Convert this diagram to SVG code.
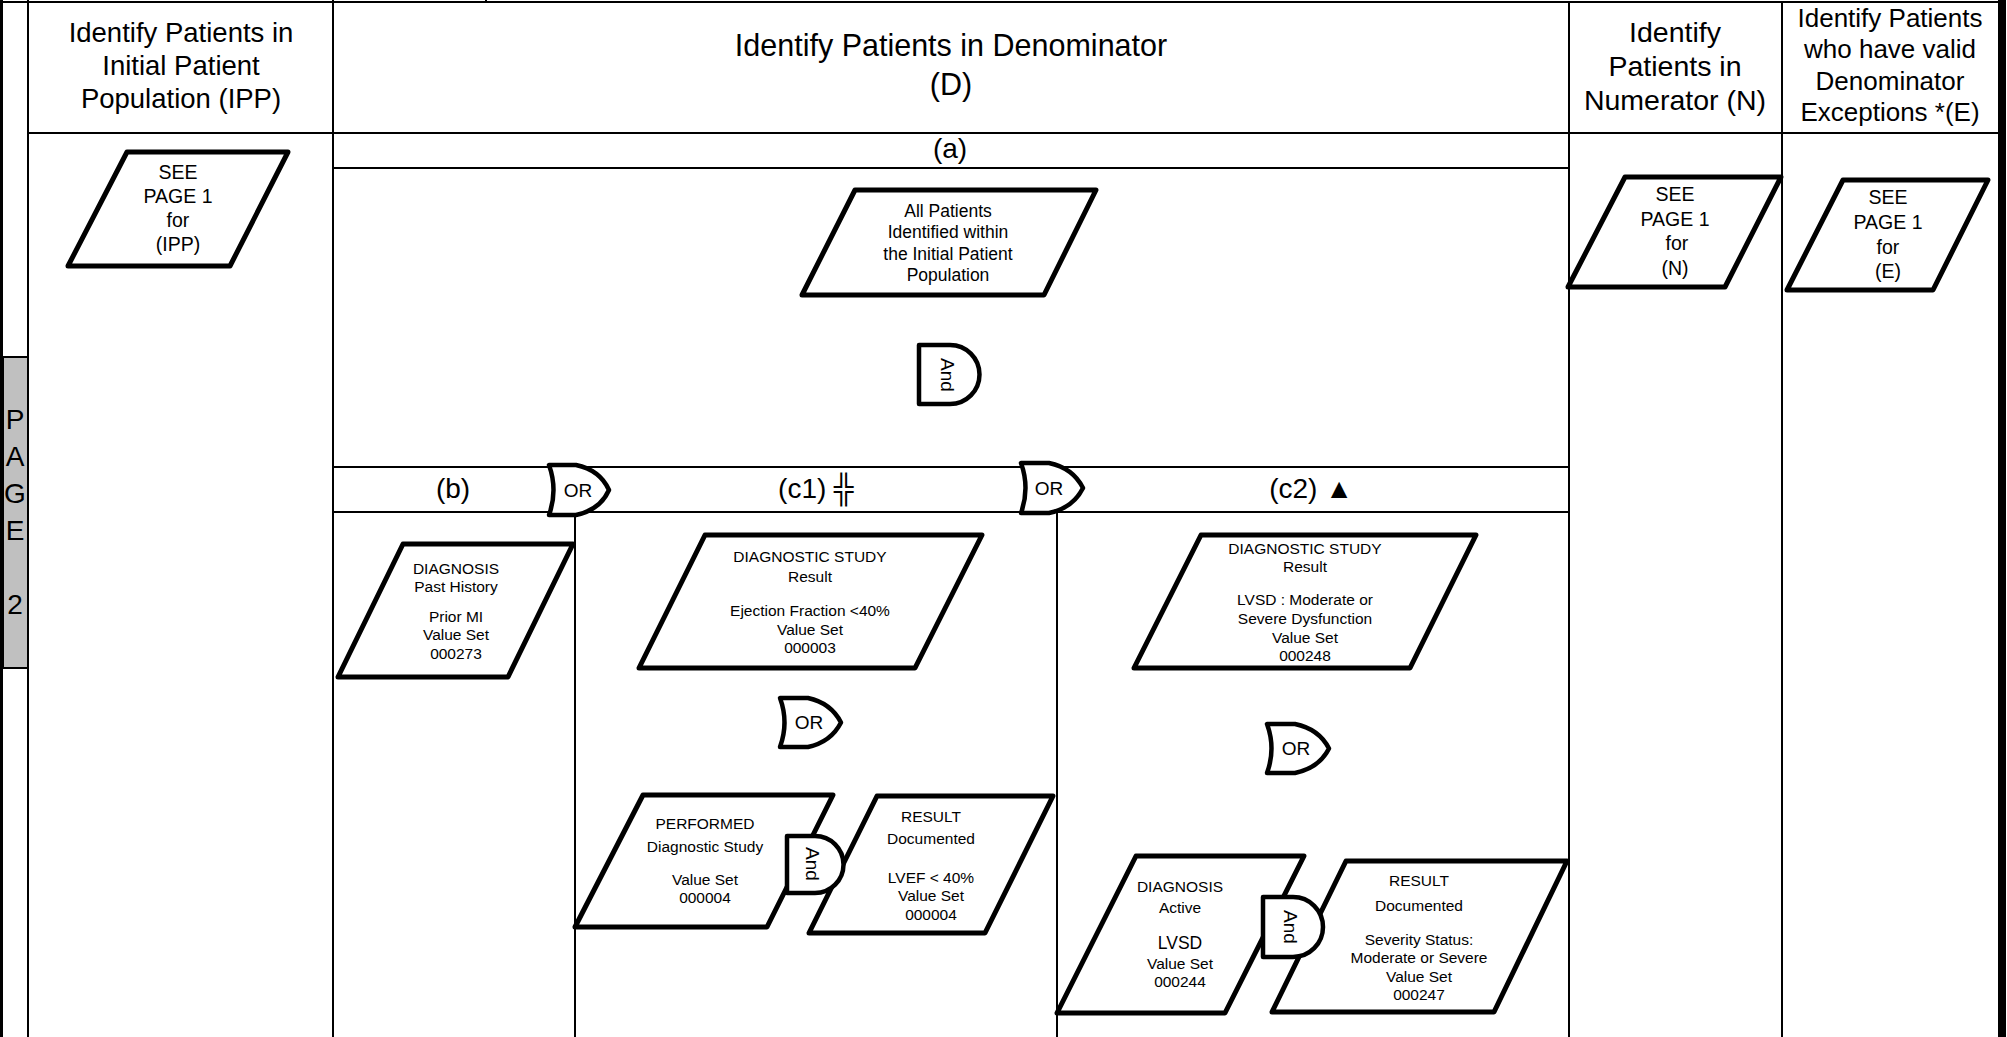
<svg xmlns="http://www.w3.org/2000/svg" width="2007" height="1037" viewBox="0 0 2007 1037">
  <style>
    .grid { stroke: #000; stroke-width: 2; fill: none; }
    .box { fill: #fff; stroke: #000; stroke-width: 5; stroke-linejoin: round; }
    .gate { fill: #fff; stroke: #000; stroke-width: 4.5; stroke-linejoin: round; }
    text { font-family: "Liberation Sans", Arial, sans-serif; fill: #000; text-anchor: middle; }
    .hd27 { font-size: 27.5px; }
    .hd30 { font-size: 30.5px; }
    .hd29 { font-size: 28.5px; }
    .hd26 { font-size: 26px; }
    .band { font-size: 28px; }
    .see { font-size: 19.5px; }
    .lg { font-size: 17.5px; }
    .sm { font-size: 15.5px; }
    .gt { font-size: 19px; }
    .pg { font-size: 28px; }
  </style>

  <rect x="0" y="0" width="2007" height="1037" fill="#fff"/>

  <!-- swimlane frame -->
  <g id="lanes">
    <rect x="0" y="0" width="3" height="1037" fill="#000"/>
    <rect x="1998" y="0" width="8" height="1037" fill="#000"/>
    <line class="grid" x1="0" y1="2" x2="2000" y2="2" stroke-width="2.5"/>
    <path class="grid" d="M333,0 V2 M486,0 V2" stroke-width="1.5"/>
    <line class="grid" x1="28" y1="0" x2="28" y2="1037"/>
    <line class="grid" x1="333" y1="2" x2="333" y2="1037"/>
    <line class="grid" x1="1569" y1="2" x2="1569" y2="1037"/>
    <line class="grid" x1="1782" y1="2" x2="1782" y2="1037"/>
    <line class="grid" x1="28" y1="133" x2="1998" y2="133"/>
    <line class="grid" x1="333" y1="168" x2="1569" y2="168"/>
    <line class="grid" x1="333" y1="467" x2="1569" y2="467"/>
    <line class="grid" x1="333" y1="512" x2="1569" y2="512"/>
    <line class="grid" x1="575" y1="512" x2="575" y2="1037"/>
    <line class="grid" x1="1057" y1="512" x2="1057" y2="1037"/>
  </g>

  <!-- page tab -->
  <g id="page-tab">
    <rect x="3" y="357" width="25" height="311" fill="#c0c0c0" stroke="#000" stroke-width="2"/>
    <text class="pg" x="15" y="429">P</text>
    <text class="pg" x="15" y="466">A</text>
    <text class="pg" x="15" y="503">G</text>
    <text class="pg" x="15" y="540">E</text>
    <text class="pg" x="15" y="614">2</text>
  </g>

  <!-- column headings -->
  <g id="header-ipp">
    <text class="hd27" x="181" y="42">Identify Patients in</text>
    <text class="hd27" x="181" y="75">Initial Patient</text>
    <text class="hd27" x="181" y="108">Population (IPP)</text>
  </g>
  <g id="header-d">
    <text class="hd30" x="951" y="56">Identify Patients in Denominator</text>
    <text class="hd30" x="951" y="95">(D)</text>
  </g>
  <g id="header-n">
    <text class="hd29" x="1675" y="42">Identify</text>
    <text class="hd29" x="1675" y="76">Patients in</text>
    <text class="hd29" x="1675" y="110">Numerator (N)</text>
  </g>
  <g id="header-e">
    <text class="hd26" x="1890" y="27">Identify Patients</text>
    <text class="hd26" x="1890" y="58">who have valid</text>
    <text class="hd26" x="1890" y="90">Denominator</text>
    <text class="hd26" x="1890" y="121">Exceptions *(E)</text>
  </g>

  <!-- sub-band labels -->
  <g id="band-a"><text class="band" x="950" y="158">(a)</text></g>
  <g id="band-b"><text class="band" x="453" y="498">(b)</text></g>
  <g id="band-c1"><text class="band" x="816" y="498">(c1) ╬</text></g>
  <g id="band-c2"><text class="band" x="1311" y="498">(c2) ▲</text></g>

  <!-- data nodes -->
  <g id="ipp-ref">
    <polygon class="box" points="127,152 288,152 230,266 68,266"/>
    <text class="see" x="178" y="179">SEE</text>
    <text class="see" x="178" y="203">PAGE 1</text>
    <text class="see" x="178" y="227">for</text>
    <text class="see" x="178" y="251">(IPP)</text>
  </g>
  <g id="n-ref">
    <polygon class="box" points="1625,177 1781,177 1725,287 1568,287"/>
    <text class="see" x="1675" y="201">SEE</text>
    <text class="see" x="1675" y="226">PAGE 1</text>
    <text class="see" x="1677" y="250">for</text>
    <text class="see" x="1675" y="275">(N)</text>
  </g>
  <g id="e-ref">
    <polygon class="box" points="1843,180 1988,180 1933,290 1787,290"/>
    <text class="see" x="1888" y="204">SEE</text>
    <text class="see" x="1888" y="229">PAGE 1</text>
    <text class="see" x="1888" y="254">for</text>
    <text class="see" x="1888" y="278">(E)</text>
  </g>
  <g id="all-patients">
    <polygon class="box" points="855,190 1096,190 1044,295 802,295"/>
    <text class="lg" x="948" y="217">All Patients</text>
    <text class="lg" x="948" y="238">Identified within</text>
    <text class="lg" x="948" y="260">the Initial Patient</text>
    <text class="lg" x="948" y="281">Population</text>
  </g>
  <g id="prior-mi">
    <polygon class="box" points="403,544 573,544 508,677 338,677"/>
    <text class="sm" x="456" y="574">DIAGNOSIS</text>
    <text class="sm" x="456" y="592">Past History</text>
    <text class="sm" x="456" y="622">Prior MI</text>
    <text class="sm" x="456" y="640">Value Set</text>
    <text class="sm" x="456" y="659">000273</text>
  </g>
  <g id="ejection-fraction">
    <polygon class="box" points="705,535 982,535 915,668 639,668"/>
    <text class="sm" x="810" y="562">DIAGNOSTIC STUDY</text>
    <text class="sm" x="810" y="582">Result</text>
    <text class="sm" x="810" y="616">Ejection Fraction &lt;40%</text>
    <text class="sm" x="810" y="635">Value Set</text>
    <text class="sm" x="810" y="653">000003</text>
  </g>
  <g id="performed-study">
    <polygon class="box" points="643,795 833,795 767,927 575,927"/>
    <text class="sm" x="705" y="829">PERFORMED</text>
    <text class="sm" x="705" y="852">Diagnostic Study</text>
    <text class="sm" x="705" y="885">Value Set</text>
    <text class="sm" x="705" y="903">000004</text>
  </g>
  <g id="lvef-result">
    <polygon class="box" points="877,796 1053,796 985,933 809,933"/>
    <text class="sm" x="931" y="822">RESULT</text>
    <text class="sm" x="931" y="844">Documented</text>
    <text class="sm" x="931" y="883">LVEF &lt; 40%</text>
    <text class="sm" x="931" y="901">Value Set</text>
    <text class="sm" x="931" y="920">000004</text>
  </g>
  <g id="lvsd-study">
    <polygon class="box" points="1201,535 1476,535 1410,668 1134,668"/>
    <text class="sm" x="1305" y="554">DIAGNOSTIC STUDY</text>
    <text class="sm" x="1305" y="572">Result</text>
    <text class="sm" x="1305" y="605">LVSD : Moderate or</text>
    <text class="sm" x="1305" y="624">Severe Dysfunction</text>
    <text class="sm" x="1305" y="643">Value Set</text>
    <text class="sm" x="1305" y="661">000248</text>
  </g>
  <g id="lvsd-diagnosis">
    <polygon class="box" points="1136,856 1304,856 1225,1013 1057,1013"/>
    <text class="sm" x="1180" y="892">DIAGNOSIS</text>
    <text class="sm" x="1180" y="913">Active</text>
    <text class="lg" x="1180" y="949">LVSD</text>
    <text class="sm" x="1180" y="969">Value Set</text>
    <text class="sm" x="1180" y="987">000244</text>
  </g>
  <g id="severity-result">
    <polygon class="box" points="1346,861 1567,861 1494,1012 1272,1012"/>
    <text class="sm" x="1419" y="886">RESULT</text>
    <text class="sm" x="1419" y="911">Documented</text>
    <text class="sm" x="1419" y="945">Severity Status:</text>
    <text class="sm" x="1419" y="963">Moderate or Severe</text>
    <text class="sm" x="1419" y="982">Value Set</text>
    <text class="sm" x="1419" y="1000">000247</text>
  </g>

  <!-- logic gates -->
  <g id="and-a">
    <path class="gate" d="M919,345 H950 A29.5,29.5 0 0 1 950,404 H919 Z"/>
    <text class="gt" transform="translate(948,375) rotate(90)" dy="0.35em">And</text>
  </g>
  <g id="or-b">
    <path class="gate" d="M549,465 H576 Q600,470 609,490 Q600,510 576,515 H549 Q558,490 549,465 Z"/>
    <text class="gt" x="578" y="497">OR</text>
  </g>
  <g id="or-c1-c2">
    <path class="gate" d="M1021,463 H1049 Q1073,468 1083,488 Q1073,508 1049,513 H1021 Q1030,488 1021,463 Z"/>
    <text class="gt" x="1049" y="495">OR</text>
  </g>
  <g id="or-c1">
    <path class="gate" d="M780,698 H808 Q831,703 841,722.5 Q831,742 808,747 H780 Q789,722.5 780,698 Z"/>
    <text class="gt" x="809" y="729">OR</text>
  </g>
  <g id="and-c1">
    <path class="gate" d="M787,836 H815 A28.5,28.5 0 0 1 815,893 H787 Z"/>
    <text class="gt" transform="translate(813,864) rotate(90)" dy="0.35em">And</text>
  </g>
  <g id="or-c2">
    <path class="gate" d="M1267,724 H1295 Q1319,729 1329,748.5 Q1319,768 1295,773 H1267 Q1276,748.5 1267,724 Z"/>
    <text class="gt" x="1296" y="755">OR</text>
  </g>
  <g id="and-c2">
    <path class="gate" d="M1263,897 H1293 A30,30 0 0 1 1293,957 H1263 Z"/>
    <text class="gt" transform="translate(1291,927) rotate(90)" dy="0.35em">And</text>
  </g>

  <g id="connectors"></g>
</svg>
